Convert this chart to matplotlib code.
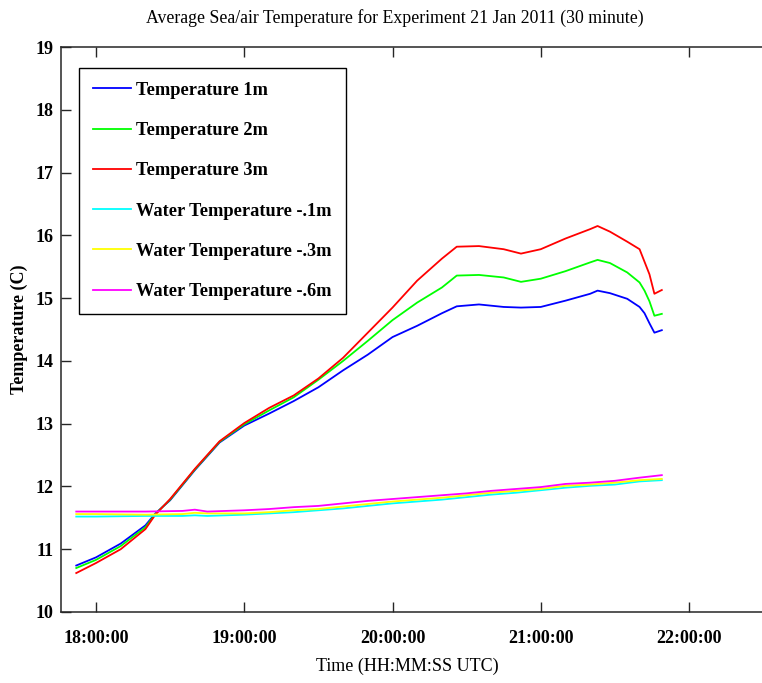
import matplotlib
matplotlib.use("Agg")
import matplotlib.pyplot as plt

# time stamps (UTC, HH:MM) and temperatures
air_times = ["17:52", "18:00", "18:10", "18:20", "18:24", "18:30", "18:40", "18:50",
             "19:00", "19:10", "19:20", "19:30", "19:40", "19:50", "20:00", "20:10",
             "20:20", "20:26", "20:35", "20:45", "20:52", "21:00", "21:10", "21:20",
             "21:23", "21:28", "21:35", "21:40", "21:42", "21:44", "21:46", "21:49"]
temp_1m = [10.74, 10.87, 11.09, 11.38, 11.57, 11.78, 12.26, 12.70,
           12.97, 13.16, 13.36, 13.58, 13.85, 14.10, 14.38, 14.56,
           14.76, 14.87, 14.90, 14.86, 14.85, 14.86, 14.96, 15.07,
           15.12, 15.08, 14.99, 14.86, 14.76, 14.60, 14.45, 14.49]
temp_2m = [10.70, 10.83, 11.05, 11.35, 11.56, 11.79, 12.27, 12.71,
           12.99, 13.21, 13.42, 13.70, 14.00, 14.32, 14.65, 14.93,
           15.17, 15.36, 15.37, 15.33, 15.26, 15.31, 15.43, 15.57,
           15.61, 15.56, 15.41, 15.25, 15.12, 14.95, 14.72, 14.75]
temp_3m = [10.62, 10.78, 11.00, 11.32, 11.55, 11.80, 12.28, 12.72,
           13.01, 13.25, 13.45, 13.72, 14.05, 14.45, 14.85, 15.28,
           15.63, 15.82, 15.83, 15.78, 15.71, 15.78, 15.95, 16.10,
           16.15, 16.06, 15.90, 15.78, 15.58, 15.38, 15.07, 15.13]

water_times = ["17:52", "18:00", "18:20", "18:35", "18:40", "18:45", "19:00", "19:10",
               "19:20", "19:30", "19:40", "19:50", "20:00", "20:10", "20:20", "20:30",
               "20:40", "20:50", "21:00", "21:10", "21:20", "21:30", "21:40", "21:49"]
water_01m = [11.52, 11.52, 11.53, 11.53, 11.54, 11.53, 11.55, 11.57,
             11.59, 11.62, 11.65, 11.69, 11.73, 11.76, 11.79, 11.83,
             11.87, 11.90, 11.94, 11.98, 12.01, 12.03, 12.08, 12.10]
water_03m = [11.56, 11.56, 11.55, 11.56, 11.58, 11.57, 11.57, 11.59,
             11.62, 11.64, 11.68, 11.72, 11.76, 11.79, 11.82, 11.86,
             11.90, 11.93, 11.96, 12.01, 12.03, 12.06, 12.10, 12.12]
water_06m = [11.60, 11.60, 11.60, 11.61, 11.63, 11.60, 11.62, 11.64,
             11.67, 11.69, 11.73, 11.77, 11.80, 11.83, 11.86, 11.89,
             11.93, 11.96, 11.99, 12.04, 12.06, 12.09, 12.14, 12.18]

tick_hours = [18, 19, 20, 21, 22]
tick_labels = ["18:00:00", "19:00:00", "20:00:00", "21:00:00", "22:00:00"]


def to_hours(stamps):
    out = []
    for s in stamps:
        h, m = s.split(":")
        out.append(int(h) + int(m) / 60.0)
    return out


plt.rcParams['font.family'] = ['Liberation Serif', 'DejaVu Serif']

fig = plt.figure(figsize=(7.62, 6.83), dpi=100)
ax = fig.add_axes([0.0797, 0.104, 0.9203, 0.827])

ta = to_hours(air_times)
tw = to_hours(water_times)
ax.plot(ta, temp_1m, color=(0, 0, 1), lw=1.3, label="Temperature 1m")
ax.plot(ta, temp_2m, color=(0, 1, 0), lw=1.3, label="Temperature 2m")
ax.plot(ta, temp_3m, color=(1, 0, 0), lw=1.3, label="Temperature 3m")
ax.plot(tw, water_01m, color=(0, 1, 1), lw=1.3, label="Water Temperature -.1m")
ax.plot(tw, water_03m, color=(1, 1, 0), lw=1.3, label="Water Temperature -.3m")
ax.plot(tw, water_06m, color=(1, 0, 1), lw=1.3, label="Water Temperature -.6m")

ax.set_xlim(17.762, 22.4925)
ax.set_ylim(10, 19)
ax.set_xticks(tick_hours)
ax.set_xticklabels(tick_labels)
ax.set_yticks(range(10, 20))

ax.tick_params(axis='x', direction='in', length=7.5, width=1, top=True, pad=13,
               labelsize=13, colors='0.15')
ax.tick_params(axis='y', direction='in', length=7.5, width=1, pad=5.5,
               labelsize=13, colors='0.15')
for lab in ax.get_xticklabels() + ax.get_yticklabels():
    lab.set_fontweight('bold')
    lab.set_color('black')

ax.spines['right'].set_visible(False)
for s in ['left', 'top', 'bottom']:
    ax.spines[s].set_linewidth(1.1)
    ax.spines[s].set_color('0.15')

ax.set_xlabel("Time (HH:MM:SS UTC)", fontsize=13)
ax.xaxis.set_label_coords(0.494, -0.081)
ax.set_ylabel("Temperature (C)", fontsize=13, fontweight='bold')
ax.yaxis.set_label_coords(-0.046, 0.5)

fig.text(394.5 / 762, 1 - 18 / 683, "Average Sea/air Temperature for Experiment 21 Jan 2011 (30 minute)",
         ha='center', va='center', fontsize=12.8)

leg = ax.legend(loc='upper left', bbox_to_anchor=(0.0261, 0.963), borderaxespad=0,
                prop={'family': 'Liberation Serif', 'weight': 'bold', 'size': 13.2},
                handlelength=2.1, handletextpad=0.28, labelspacing=1.27,
                borderpad=0.75, fancybox=False, framealpha=1, edgecolor='black')
leg.get_frame().set_linewidth(1.0)

fig.savefig("out.png", dpi=100)
